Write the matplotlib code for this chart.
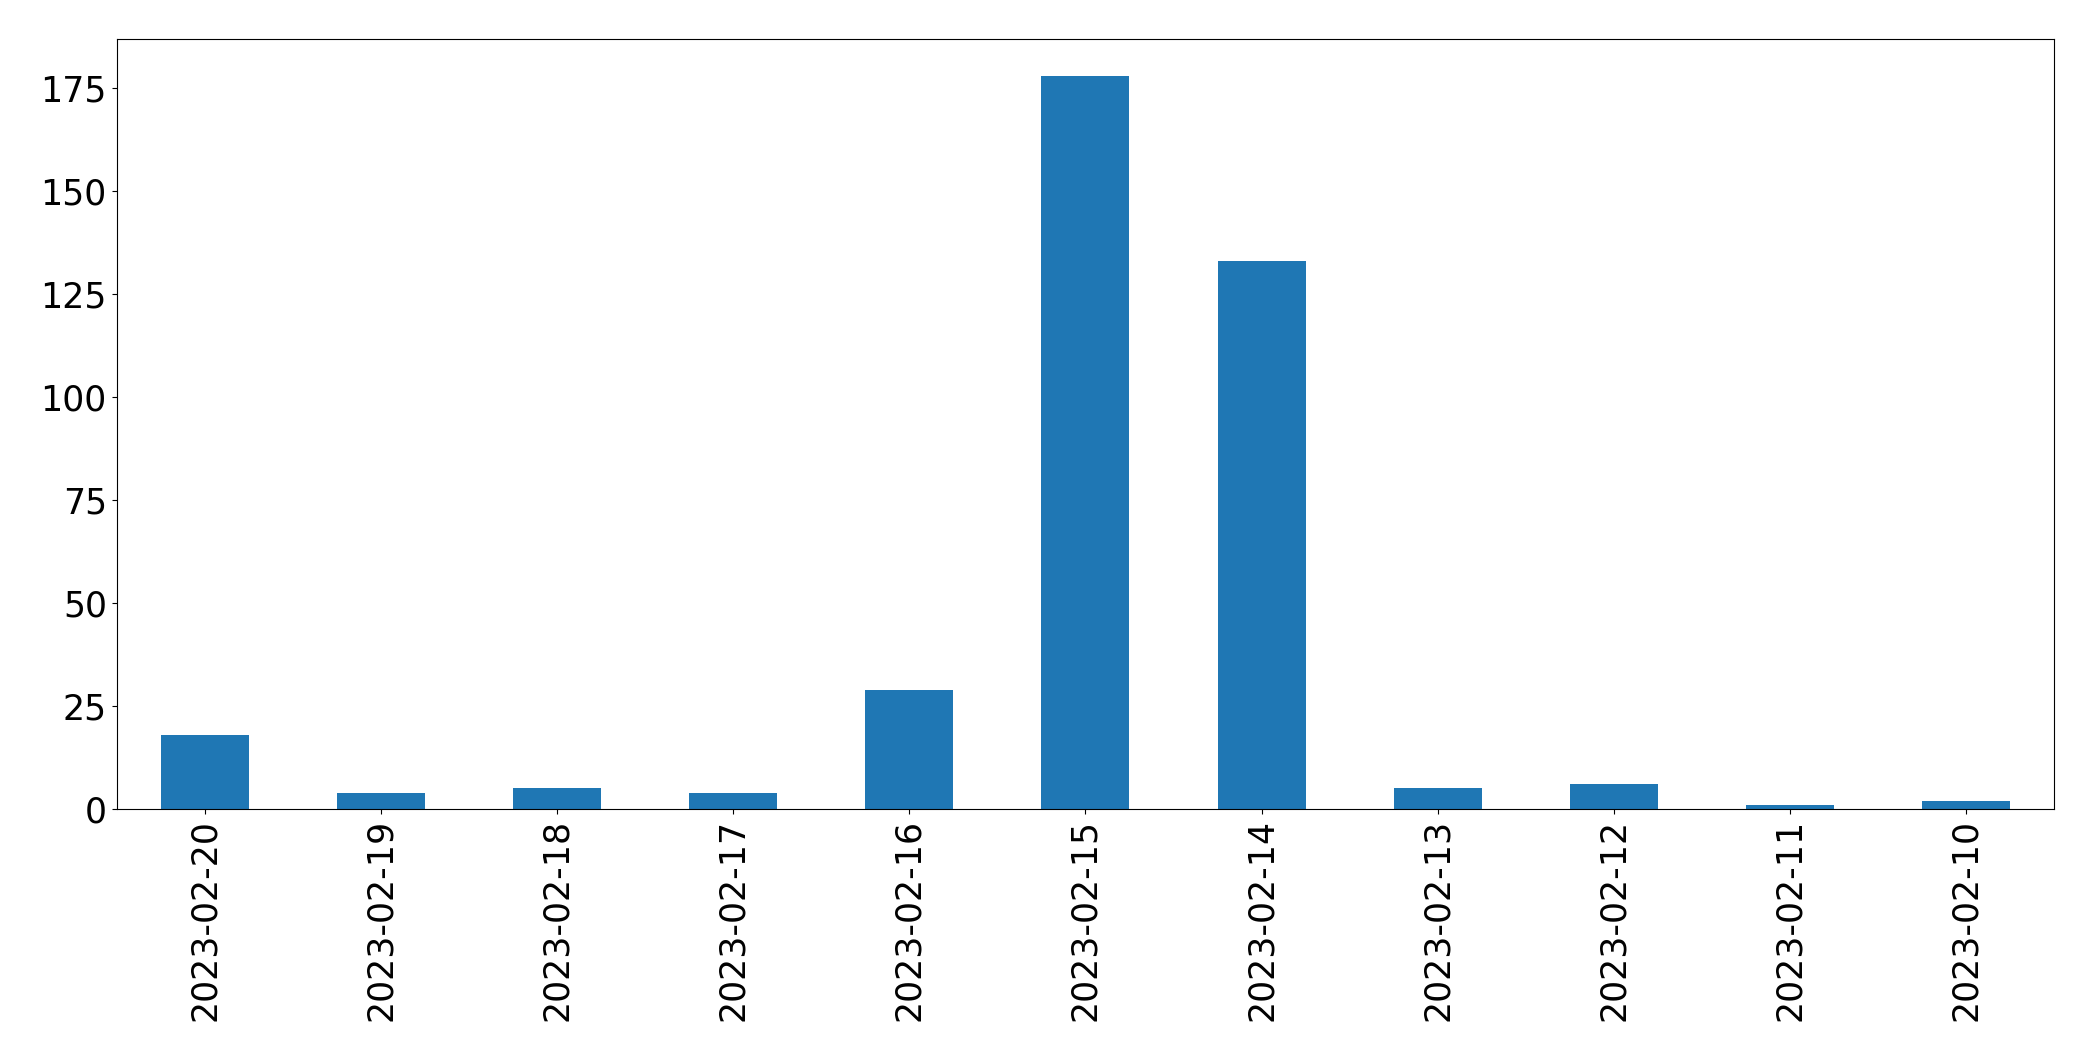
import matplotlib
matplotlib.use("Agg")
import matplotlib.pyplot as plt
import numpy as np

dates = ["2023-02-20", "2023-02-19", "2023-02-18", "2023-02-17", "2023-02-16",
         "2023-02-15", "2023-02-14", "2023-02-13", "2023-02-12", "2023-02-11",
         "2023-02-10"]
counts = [18, 4, 5, 4, 29, 178, 133, 5, 6, 1, 2]

fig = plt.figure(figsize=(20.93, 10.61), dpi=100)
ax = fig.add_axes([0.0557, 0.2375, 0.9258, 0.7255])
x = np.arange(len(dates))
ax.bar(x, counts, width=0.5, color="#1f77b4")
ax.set_xlim(-0.5, len(dates) - 0.5)
ax.set_xticks(x)
ax.set_xticklabels(dates, rotation=90)
ax.set_yticks([0, 25, 50, 75, 100, 125, 150, 175])
ax.tick_params(labelsize=25)
fig.savefig("out.png", dpi=100)
